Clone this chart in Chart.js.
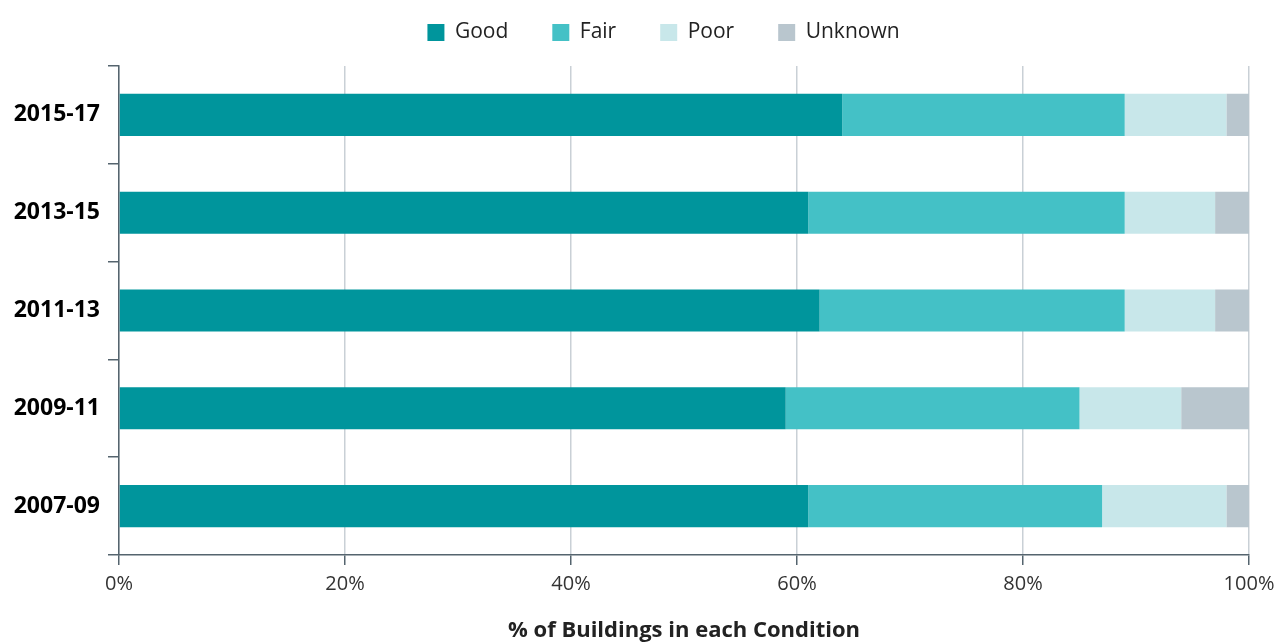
<!DOCTYPE html>
<html>
<head>
<meta charset="utf-8">
<script src="https://cdn.jsdelivr.net/npm/chart.js@4"></script>
<style>
  html, body { margin: 0; padding: 0; background: #fff; }
  #wrap { width: 1277px; height: 644px; }
</style>
</head>
<body>
<div id="wrap"><canvas id="chartCanvas" width="1277" height="644"></canvas></div>
<script>
const periods = ['2015-17', '2013-15', '2011-13', '2009-11', '2007-09']
const good = [64, 61, 62, 59, 61]
const fair = [25, 28, 27, 26, 26]
const poor = [9, 8, 8, 9, 11]
const unknown = [2, 3, 3, 6, 2]
const xTicks = [0, 20, 40, 60, 80, 100]

const axisColor = '#55646e'
const gridColor = '#c9d0d6'
const font = '"Open Sans", "Noto Sans", sans-serif'

// legend height fixed so the plot starts where the reference does,
// then the legend row is nudged right to sit over the plot like the original
const legendPlace = {
    id: 'legendPlace',
    beforeInit(chart) {
        const fit = chart.legend.fit
        chart.legend.fit = function() {
            fit.bind(chart.legend)()
            this.height = 90
        }
    },
    afterLayout(chart) {
        const lg = chart.legend
        lg.left += 39
        lg.right += 39
        lg.top += 2
    }
}

const ctx = document.getElementById('chartCanvas').getContext('2d')

new Chart(ctx, {
    type: 'bar',
    data: {
        labels: periods,
        datasets: [
            { label: 'Good', data: good, backgroundColor: '#00959c' },
            { label: 'Fair', data: fair, backgroundColor: '#44c1c6' },
            { label: 'Poor', data: poor, backgroundColor: '#c8e7ea' },
            { label: 'Unknown', data: unknown, backgroundColor: '#b9c6ce' }
        ]
    },
    options: {
        indexAxis: 'y',
        responsive: false,
        animation: false,
        layout: { padding: { top: -24, right: 28, bottom: 0, left: 0 } },
        datasets: { bar: { barPercentage: 0.43, categoryPercentage: 1, borderWidth: 0 } },
        plugins: {
            legend: {
                position: 'top',
                labels: {
                    boxWidth: 17,
                    boxHeight: 17,
                    padding: 44,
                    color: '#222',
                    font: { family: font, size: 21 }
                }
            },
            tooltip: { enabled: false }
        },
        scales: {
            x: {
                stacked: true,
                min: 0,
                max: 100,
                afterBuildTicks(scale) {
                    scale.ticks = xTicks.map(v => ({ value: v }))
                },
                afterFit(scale) {
                    scale.height = 89
                    scale.paddingRight = 0
                },
                border: { display: true, color: axisColor, width: 1.5 },
                grid: {
                    color: gridColor,
                    lineWidth: 1.5,
                    tickColor: axisColor,
                    tickLength: 10,
                    drawTicks: true
                },
                ticks: {
                    padding: 7,
                    color: '#333',
                    font: { family: font, size: 20 },
                    maxRotation: 0,
                    callback: v => v + '%'
                },
                title: {
                    display: true,
                    text: '% of Buildings in each Condition',
                    color: '#222',
                    font: { family: font, size: 22, weight: 'bold' },
                    padding: { top: 0, bottom: 0 }
                }
            },
            y: {
                stacked: true,
                afterFit(scale) { scale.width = 119 },
                border: { display: true, color: axisColor, width: 1.5 },
                grid: {
                    drawOnChartArea: false,
                    drawTicks: true,
                    tickLength: 11,
                    tickColor: axisColor,
                    lineWidth: 1.5
                },
                ticks: {
                    padding: 8,
                    color: '#000',
                    font: { family: font, size: 23, weight: 'bold' }
                }
            }
        }
    },
    plugins: [legendPlace]
})
</script>
</body>
</html>
